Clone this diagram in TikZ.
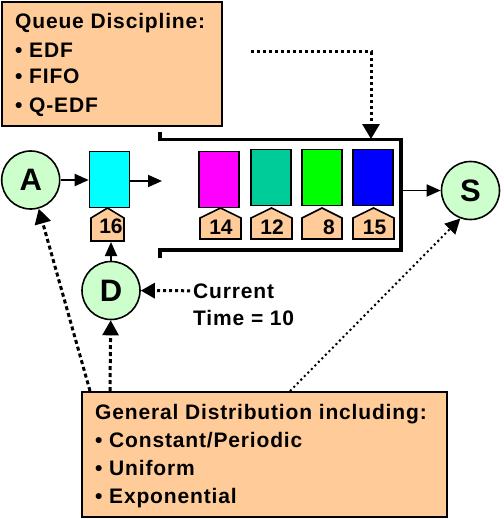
\documentclass[tikz,border=0pt]{standalone}
\usepackage{fontspec}
\setmainfont{Liberation Sans}[LetterSpace=4]
\newfontfamily\digitfont{Liberation Sans}
\usetikzlibrary{arrows.meta}
\definecolor{boxorange}{HTML}{FFCC99}
\definecolor{circgreen}{HTML}{CCFFCC}
\definecolor{pktteal}{HTML}{00CC99}
\definecolor{pktcyan}{HTML}{00FFFF}
\definecolor{pktmagenta}{HTML}{FF00FF}
\definecolor{pktgreen}{HTML}{00FF00}
\definecolor{pktblue}{HTML}{0000FF}
\begin{document}
\begin{tikzpicture}[x=1pt,y=-1pt,
  infobox/.style={draw, line width=2pt, fill=boxorange, inner sep=0pt, anchor=north west},
  txt/.style={anchor=base west, inner sep=0pt, font=\bfseries\fontsize{21}{24}\selectfont},
  circ/.style={circle, draw, line width=1.6pt, fill=circgreen, minimum size=58pt, inner sep=0pt, font=\bfseries\fontsize{31}{31}\selectfont},
  pkt/.style={draw, line width=1.6pt, minimum width=40pt, minimum height=56pt, inner sep=0pt},
  tagst/.style={draw, line width=1.6pt, fill=boxorange, line join=miter},
  tagnum/.style={anchor=base, inner sep=0pt, font=\digitfont\bfseries\fontsize{21}{24}\selectfont},
  flow/.style={-{Triangle[length=14pt,width=12pt]}, line width=1.8pt},
  chan/.style={line width=3.5pt},
  dotq/.style={line width=3pt, dash pattern=on 3pt off 3pt, -{Triangle[length=15pt,width=17pt]}},
  dotl/.style={line width=3pt, dash pattern=on 4pt off 3pt, -{Triangle[length=15pt,width=16pt]}},
  dott/.style={line width=3pt, dash pattern=on 3pt off 3pt, -{Triangle[length=14pt,width=15pt]}},
  dots/.style={line width=2pt, dash pattern=on 2pt off 3pt, -{Triangle[length=15pt,width=15pt]}}
]
\useasboundingbox (0,0) rectangle (503,519);

% Queue discipline box
\node[infobox, minimum width=220pt, minimum height=124pt] (qd) at (1,1) {};
\node[txt] (q1) at (15,29) {Queue Discipline:};
\node[txt] (q2) at (15,57) {• EDF};
\node[txt] (q3) at (15,84) {• FIFO};
\node[txt] (q4) at (15,112) {• Q-EDF};

% General distribution box
\node[infobox, minimum width=365pt, minimum height=125pt] (gd) at (81,391) {};
\node[txt] (g1) at (95,419) {General Distribution including:};
\node[txt] (g2) at (95,447) {• Constant/Periodic};
\node[txt] (g3) at (95,475) {• Uniform};
\node[txt] (g4) at (95,503) {• Exponential};

% queue channel
\draw[chan] (160,132) -- (160,139.5) -- (401,139.5) -- (401,250) -- (160,250) -- (160,258);

% circles
\node[circ] (A) at (30.7,180) {A};
\node[circ] (D) at (111,290.5) {D};
\node[circ] (S) at (470.5,190.5) {S};

% packets
\node[pkt, fill=pktcyan] (pc) at (109.5,179.5) {};
\node[pkt, fill=pktmagenta] (pm) at (219,179.5) {};
\node[pkt, fill=pktteal] (pt) at (271,177.5) {};
\node[pkt, fill=pktgreen] (pg) at (322,177.5) {};
\node[pkt, fill=pktblue] (pb) at (373,177.5) {};

% tags
\draw[tagst] (91,241) -- (91,218) -- (107.5,208) -- (124,218) -- (124,241) -- cycle;
\node[tagnum] (t16) at (111,233) {16};
\draw[tagst] (200,239) -- (200,218) -- (220.5,208) -- (241,218) -- (241,239) -- cycle;
\node[tagnum] (t14) at (221,234) {14};
\draw[tagst] (251,239) -- (251,218) -- (271.5,208) -- (292,218) -- (292,239) -- cycle;
\node[tagnum] (t12) at (272,234) {12};
\draw[tagst] (302,239) -- (302,218) -- (322,208) -- (342,218) -- (342,239) -- cycle;
\node[tagnum] (t8) at (329,234) {8};
\draw[tagst] (353,239) -- (353,218) -- (373.5,208) -- (394,218) -- (394,239) -- cycle;
\node[tagnum] (t15) at (374.5,234) {15};

% current time
\node[txt] (ct1) at (193,298) {Current};
\node[txt] (ct2) at (193,325) {Time = 10};

% coordinates
\coordinate (qin) at (162,181);
\coordinate (qout) at (401,190.5);
\coordinate (qs) at (251,52);
\coordinate (qt) at (371,139);
\coordinate (t16b) at (111,242);
\coordinate (ga) at (90,391);
\coordinate (gdd) at (110,391);
\coordinate (gs) at (290,391);

% solid flows
\draw[flow] (A) -- (pc.west |- A);
\draw[flow] (pc.east |- qin) -- (qin);
\draw[flow] (qout) -- (S);
\draw[flow] (D) -- (t16b);

% dotted arrows
\draw[dotq] (qs) -- (qt |- qs) -- (qt);
\draw[dott] ([xshift=-3pt]ct1.west) -- (D);
\draw[dotl] (gdd) -- (D);
\draw[dotl] (ga) -- (A);
\draw[dots] (gs) -- (S.250);
\end{tikzpicture}
\end{document}
